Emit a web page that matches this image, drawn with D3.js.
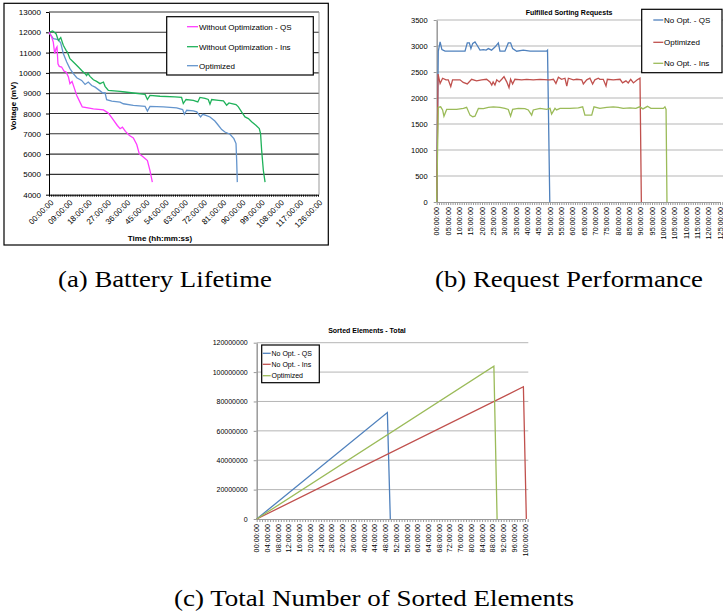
<!DOCTYPE html>
<html>
<head>
<meta charset="utf-8">
<script src="https://cdn.jsdelivr.net/npm/d3@7"></script>
<style>
body { margin: 0; background: #fff; }
svg { display: block; }
</style>
</head>
<body>
<svg id="fig" width="723" height="614"></svg>
<script>
// (a) battery lifetime: [hours, mV]
var battQS = [[0,12000],[1.25,11770],[2,11520],[2.66,10950],[3.3,11200],[3.75,11280],[4.2,10450],[4.8,10320],[5.9,10290],[7,10090],[8,10040],[9.1,9800],[9.8,9470],[10.8,9580],[11.7,9300],[13,8890],[14.5,8560],[15.6,8320],[20.8,8230],[25.5,8180],[27.8,8020],[29.8,7740],[32,7410],[33.3,7250],[34.4,7330],[35.8,7120],[37.7,6920],[39.5,6800],[41.1,6470],[42.3,6010],[43.9,5880],[46.1,5680],[47.3,5190],[48.4,4620]];
var battIns = [[0,12000],[1.7,12070],[3.3,11930],[4.4,11600],[5.5,11740],[6.7,11360],[8,11110],[8.6,11030],[9.8,10700],[11.4,10540],[13.75,10290],[15.3,10120],[16.9,9960],[17.6,9870],[18.2,9980],[19.2,9830],[20.8,9660],[22.3,9580],[23.9,9470],[25.5,9550],[26.25,9340],[27.8,9140],[33.3,9090],[35.6,9060],[39.5,9010],[45,8940],[46.1,8690],[47.3,8890],[52,8850],[59,8820],[62.1,8790],[62.9,8490],[64.2,8690],[67.6,8650],[69.7,8570],[70.7,8790],[73.1,8740],[74.6,8690],[75.4,8460],[76.2,8690],[79.4,8650],[81.7,8620],[83.2,8410],[84.3,8520],[85.6,8490],[87.6,8440],[88.7,8330],[90.2,8080],[91.8,7830],[93.4,7750],[94.9,7590],[96.9,7420],[98.5,7260],[99.1,7010],[99.6,6190],[100.4,5200],[101.2,4620]];
var battOpt = [[0,12000],[2,11690],[4.4,11640],[5.5,11470],[6.7,10950],[8.3,10540],[9.8,10210],[11.4,9960],[13,9760],[15.3,9630],[16.9,9430],[18.4,9550],[20,9380],[21.6,9300],[23.6,9140],[25.2,9010],[26.25,9020],[27,8680],[29.4,8610],[33.3,8560],[34.8,8480],[39.5,8400],[45,8350],[46.1,8120],[47.3,8350],[53.6,8330],[59.8,8280],[62.6,8190],[63.4,7960],[64.5,8160],[67.6,8130],[69.2,8080],[71,7830],[72,7960],[73.5,7910],[75.4,7830],[77.7,7630],[79.3,7420],[80.9,7210],[82.4,7090],[84.8,6980],[86.6,6760],[87.6,6520],[87.9,5690],[88.2,4620]];
var voltTicks = [4000,5000,6000,7000,8000,9000,10000,11000,12000,13000];
var battHours = [0,9,18,27,36,45,54,63,72,81,90,99,108,117,126];

// (b) fulfilled sorting requests: [hours, requests]
var reqQS = [[0,0],[0.7,2900],[1.5,3080],[2.3,2930],[3.7,2900],[12.5,2900],[13.5,3060],[14.4,3060],[15.1,2950],[15.9,3050],[16.9,3080],[17.9,3010],[19.1,2920],[20.6,2930],[21.8,2920],[22.8,2950],[24.2,2920],[25.7,2980],[27.2,3060],[27.9,2900],[30.1,2900],[31.6,3060],[32.6,3060],[33.5,2950],[35.3,2900],[38.2,2920],[41.2,2900],[48.5,2900],[48.9,2920],[49.9,0]];
var reqOpt = [[0,0],[0.6,2460],[1.5,2280],[2.6,2380],[4.1,2350],[5.1,2350],[6.2,2220],[7,2350],[10.3,2350],[11.7,2300],[13.5,2270],[15.4,2360],[17.6,2330],[19.8,2350],[22,2360],[23.5,2310],[24.3,2250],[24.9,2310],[25.7,2250],[26.5,2350],[27.6,2310],[28.7,2360],[29.7,2410],[30.9,2310],[31.9,2200],[32.6,2360],[33.5,2270],[34.5,2360],[37.5,2350],[39.7,2360],[42.6,2350],[45.6,2360],[49.2,2350],[50,2350],[51.5,2360],[52.6,2280],[53.7,2400],[55.1,2360],[56.6,2380],[57.4,2230],[58.1,2380],[60.3,2350],[61.8,2360],[64,2350],[64.7,2270],[66.2,2350],[67.6,2380],[68.8,2270],[69.8,2350],[71.3,2380],[72,2360],[73.5,2360],[74.7,2230],[75.3,2360],[77.9,2350],[80.9,2360],[82,2290],[83.5,2330],[84.5,2290],[85.6,2360],[86.8,2290],[88.5,2350],[89.7,2380],[90.3,0]];
var reqIns = [[0,0],[0.7,1820],[1.75,1830],[2.6,1770],[3.2,1650],[4.4,1780],[5.9,1780],[8.8,1780],[11.8,1800],[13.2,1820],[14.7,1670],[15.9,1640],[16.9,1650],[18.4,1800],[20.6,1795],[22.8,1820],[25,1830],[27.9,1820],[30.1,1800],[31.6,1780],[32.6,1650],[33.5,1780],[36,1800],[38.9,1795],[40.4,1770],[41.9,1670],[42.6,1770],[45.6,1800],[48.5,1780],[50,1800],[50.7,1690],[52.2,1800],[52.9,1770],[54.4,1800],[58.8,1800],[62.5,1810],[64.4,1830],[65.4,1670],[68.4,1670],[69.4,1830],[72,1800],[75,1820],[77.9,1830],[80.1,1820],[82.3,1800],[85.3,1810],[87.9,1800],[89.5,1830],[91,1790],[93,1840],[94.5,1800],[100,1800],[100.7,1830],[101.2,1780],[101.6,0]];
var reqTicks = [0,500,1000,1500,2000,2500,3000,3500];
var reqHours = [0,5,10,15,20,25,30,35,40,45,50,55,60,65,70,75,80,85,90,95,100,105,110,115,120,125];

// (c) sorted elements total: [hours, elements]
var sortQS = [[0,0],[48.7,72500000],[49.8,0]];
var sortIns = [[0,0],[99.4,90000000],[100.5,0]];
var sortOpt = [[0,0],[88.4,104000000],[89.6,0]];
var sortTicks = [0,20000000,40000000,60000000,80000000,100000000,120000000];
var sortHours = [0,4,8,12,16,20,24,28,32,36,40,44,48,52,56,60,64,68,72,76,80,84,88,92,96,100];

var SANS = "'Liberation Sans', Arial, sans-serif";
var SERIF = "'Liberation Serif', 'Times New Roman', serif";

function fmtHour(h) {
	return (h < 10 ? "0" : "") + h + ":00:00";
}

var svg = d3.select("#fig");
svg.append("rect").attr("width", 723).attr("height", 614).attr("fill", "#fff");

// ================= (a) =================
var xa = d3.scaleLinear().domain([0, 126]).range([49, 318]);
var ya = d3.scaleLinear().domain([4000, 13000]).range([194.7, 12]);
var ga = svg.append("g").attr("font-family", SANS);

ga.append("rect")
	.attr("x", 4).attr("y", 3.3).attr("width", 324.3).attr("height", 241.7)
	.attr("fill", "none").attr("stroke", "#000").attr("stroke-width", 1.2);

ga.append("g").selectAll("line")
	.data(voltTicks.slice(1))
	.enter().append("line")
	.attr("x1", 49).attr("x2", 319)
	.attr("y1", function(d) { return ya(d); })
	.attr("y2", function(d) { return ya(d); })
	.attr("stroke", "#333").attr("stroke-width", 1.1);

ga.append("line")
	.attr("x1", 319).attr("x2", 319).attr("y1", ya(13000)).attr("y2", ya(4000))
	.attr("stroke", "#999");

var axA = ga.append("g")
	.attr("transform", "translate(49,0)")
	.call(d3.axisLeft(ya).tickValues(voltTicks).tickSize(3).tickPadding(5).tickSizeOuter(0).tickFormat(d3.format("d")));
axA.attr("font-family", SANS).attr("font-size", 8);

ga.append("g")
	.attr("transform", "translate(0," + ya(4000) + ")")
	.call(d3.axisBottom(xa).tickValues(d3.range(0, 127)).tickSize(2).tickSizeOuter(0).tickFormat(""));

ga.selectAll("text.xl")
	.data(battHours)
	.enter().append("text")
	.attr("class", "xl")
	.attr("transform", function(d) { return "translate(" + (xa(d) + 1) + ",199) rotate(-45)"; })
	.attr("text-anchor", "end")
	.attr("dy", "0.71em")
	.attr("font-size", 8)
	.text(fmtHour);

ga.append("text")
	.attr("x", 160).attr("y", 241)
	.attr("text-anchor", "middle").attr("font-size", 8).attr("font-weight", "bold")
	.text("Time (hh:mm:ss)");

ga.append("text")
	.attr("transform", "translate(16,106) rotate(-90)")
	.attr("text-anchor", "middle").attr("font-size", 8).attr("font-weight", "bold")
	.text("Voltage (mV)");

var lineA = d3.line()
	.x(function(d) { return xa(d[0]); })
	.y(function(d) { return ya(d[1]); });

var seriesA = [
	{ name: "Without Optimization - QS", color: "#ff3cff", values: battQS },
	{ name: "Without Optimization - Ins", color: "#1fb25a", values: battIns },
	{ name: "Optimized", color: "#6495cd", values: battOpt }
];

ga.selectAll("path.series")
	.data([seriesA[2], seriesA[1], seriesA[0]])
	.enter().append("path")
	.attr("class", "series")
	.attr("d", function(d) { return lineA(d.values); })
	.attr("fill", "none")
	.attr("stroke", function(d) { return d.color; })
	.attr("stroke-width", 1.3);

ga.append("rect")
	.attr("x", 166.7).attr("y", 16.7).attr("width", 146.6).attr("height", 58.3)
	.attr("fill", "#fff").attr("stroke", "#000").attr("stroke-width", 1.2);

var legA = ga.selectAll("g.leg")
	.data(seriesA)
	.enter().append("g")
	.attr("transform", function(d, i) { return "translate(0," + [26.7, 46.7, 65.7][i] + ")"; });
legA.append("line")
	.attr("x1", 187).attr("x2", 198)
	.attr("stroke", function(d) { return d.color; }).attr("stroke-width", 1.3);
legA.append("text")
	.attr("x", 199).attr("dy", "0.35em").attr("font-size", 8)
	.text(function(d) { return d.name; });

// ================= (b) =================
var xb = d3.scaleLinear().domain([0, 125]).range([436.7, 720]);
var yb = d3.scaleLinear().domain([0, 3500]).range([202, 20]);
var gb = svg.append("g").attr("font-family", SANS);

gb.append("g").selectAll("line")
	.data(reqTicks.slice(1))
	.enter().append("line")
	.attr("x1", 436.7).attr("x2", 723)
	.attr("y1", function(d) { return yb(d); })
	.attr("y2", function(d) { return yb(d); })
	.attr("stroke", "#b5b5b5").attr("stroke-width", 1);

var axB = gb.append("g")
	.attr("transform", "translate(436.7,0)")
	.call(d3.axisLeft(yb).tickValues(reqTicks).tickSize(3).tickPadding(6).tickSizeOuter(0).tickFormat(d3.format("d")));
axB.attr("font-family", SANS).attr("font-size", 7.5);
axB.selectAll("line, path").attr("stroke", "#999");
axB.select("path").attr("stroke-width", 1.5);

var axBx = gb.append("g")
	.attr("transform", "translate(0,202)")
	.call(d3.axisBottom(xb).tickValues(d3.range(0, 128)).tickSize(3).tickSizeOuter(0).tickFormat(""));
axBx.selectAll("line, path").attr("stroke", "#999");

gb.selectAll("text.xl")
	.data(reqHours)
	.enter().append("text")
	.attr("class", "xl")
	.attr("transform", function(d) { return "translate(" + xb(d) + ",207) rotate(-90)"; })
	.attr("text-anchor", "end")
	.attr("dy", "0.35em")
	.attr("font-size", 7.3)
	.text(fmtHour);

gb.append("text")
	.attr("x", 569).attr("y", 15)
	.attr("text-anchor", "middle").attr("font-size", 7).attr("font-weight", "bold")
	.text("Fulfilled Sorting Requests");

var lineB = d3.line()
	.x(function(d) { return xb(d[0]); })
	.y(function(d) { return yb(d[1]); });

var seriesB = [
	{ name: "No Opt. - QS", color: "#4f81bd", values: reqQS },
	{ name: "Optimized", color: "#c0504d", values: reqOpt },
	{ name: "No Opt. - Ins", color: "#9bbb59", values: reqIns }
];

gb.selectAll("path.series")
	.data(seriesB)
	.enter().append("path")
	.attr("class", "series")
	.attr("d", function(d) { return lineB(d.values); })
	.attr("fill", "none")
	.attr("stroke", function(d) { return d.color; })
	.attr("stroke-width", 1.3);

gb.append("rect")
	.attr("x", 641.7).attr("y", 9.3).attr("width", 80.3).attr("height", 63.4)
	.attr("fill", "#fff").attr("stroke", "#000").attr("stroke-width", 1.2);

var legB = gb.selectAll("g.leg")
	.data(seriesB)
	.enter().append("g")
	.attr("transform", function(d, i) { return "translate(0," + [20, 42.3, 63.3][i] + ")"; });
legB.append("line")
	.attr("x1", 653.3).attr("x2", 663.3)
	.attr("stroke", function(d) { return d.color; }).attr("stroke-width", 1.3);
legB.append("text")
	.attr("x", 664).attr("dy", "0.35em").attr("font-size", 8)
	.text(function(d) { return d.name; });

// ================= (c) =================
var xc = d3.scaleLinear().domain([0, 100]).range([256.7, 525]);
var yc = d3.scaleLinear().domain([0, 120000000]).range([519, 342.7]);
var gc = svg.append("g").attr("font-family", SANS);

gc.append("g").selectAll("line")
	.data(sortTicks.slice(1))
	.enter().append("line")
	.attr("x1", 256.7).attr("x2", 528.3)
	.attr("y1", function(d) { return yc(d); })
	.attr("y2", function(d) { return yc(d); })
	.attr("stroke", "#b5b5b5").attr("stroke-width", 1);

var axC = gc.append("g")
	.attr("transform", "translate(256.7,0)")
	.call(d3.axisLeft(yc).tickValues(sortTicks).tickSize(3).tickPadding(6).tickSizeOuter(0).tickFormat(d3.format("d")));
axC.attr("font-family", SANS).attr("font-size", 7);
axC.selectAll("line, path").attr("stroke", "#999");
axC.select("path").attr("stroke-width", 1.5);

var axCx = gc.append("g")
	.attr("transform", "translate(0,519)")
	.call(d3.axisBottom(xc).tickValues(d3.range(0, 102)).tickSize(3).tickSizeOuter(0).tickFormat(""));
axCx.selectAll("line, path").attr("stroke", "#999");

gc.selectAll("text.xl")
	.data(sortHours)
	.enter().append("text")
	.attr("class", "xl")
	.attr("transform", function(d) { return "translate(" + xc(d) + ",524) rotate(-90)"; })
	.attr("text-anchor", "end")
	.attr("dy", "0.35em")
	.attr("font-size", 7.3)
	.text(fmtHour);

gc.append("text")
	.attr("x", 367).attr("y", 333)
	.attr("text-anchor", "middle").attr("font-size", 7).attr("font-weight", "bold")
	.text("Sorted Elements - Total");

var lineC = d3.line()
	.x(function(d) { return xc(d[0]); })
	.y(function(d) { return yc(d[1]); });

var seriesC = [
	{ name: "No Opt. - QS", color: "#4f81bd", values: sortQS },
	{ name: "No Opt. - Ins", color: "#c0504d", values: sortIns },
	{ name: "Optimized", color: "#9bbb59", values: sortOpt }
];

gc.selectAll("path.series")
	.data(seriesC)
	.enter().append("path")
	.attr("class", "series")
	.attr("d", function(d) { return lineC(d.values); })
	.attr("fill", "none")
	.attr("stroke", function(d) { return d.color; })
	.attr("stroke-width", 1.3);

gc.append("rect")
	.attr("x", 261.7).attr("y", 345).attr("width", 57.6).attr("height", 37.7)
	.attr("fill", "#fff").attr("stroke", "#000").attr("stroke-width", 1.2);

var legC = gc.selectAll("g.leg")
	.data(seriesC)
	.enter().append("g")
	.attr("transform", function(d, i) { return "translate(0," + [353.3, 364.3, 375.7][i] + ")"; });
legC.append("line")
	.attr("x1", 262.7).attr("x2", 270.7)
	.attr("stroke", function(d) { return d.color; }).attr("stroke-width", 1.3);
legC.append("text")
	.attr("x", 271.5).attr("dy", "0.35em").attr("font-size", 7)
	.text(function(d) { return d.name; });

// ================= captions =================
var captions = [
	{ text: "(a) Battery Lifetime", x: 58, y: 287, w: 214 },
	{ text: "(b) Request Performance", x: 435, y: 287, w: 268 },
	{ text: "(c) Total Number of Sorted Elements", x: 174, y: 606, w: 400 }
];
svg.selectAll("text.cap")
	.data(captions)
	.enter().append("text")
	.attr("class", "cap")
	.attr("x", function(d) { return d.x; })
	.attr("y", function(d) { return d.y; })
	.attr("font-family", SERIF)
	.attr("font-size", 23)
	.attr("textLength", function(d) { return d.w; })
	.attr("lengthAdjust", "spacingAndGlyphs")
	.text(function(d) { return d.text; });
</script>
</body>
</html>
